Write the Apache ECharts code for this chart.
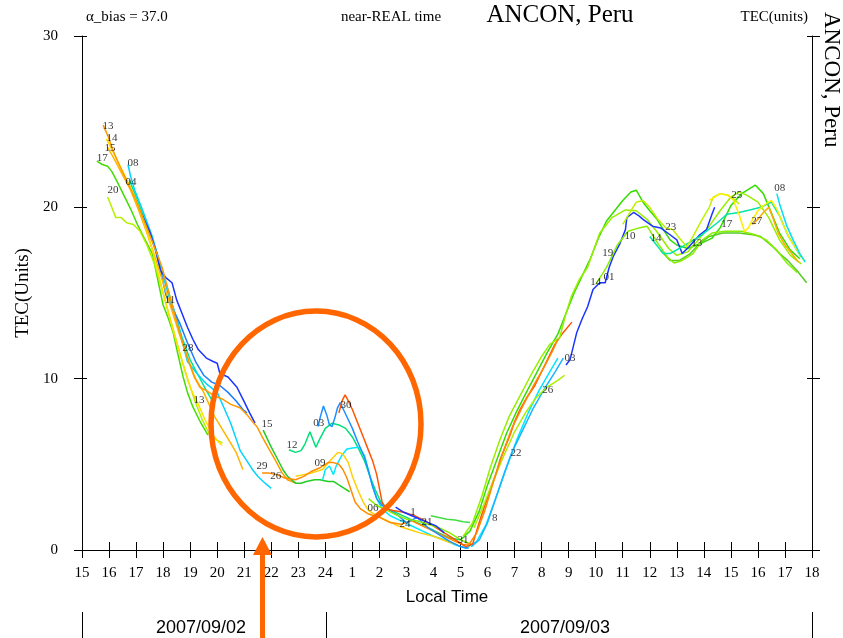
<!DOCTYPE html>
<html>
<head>
<meta charset="utf-8">
<title>ANCON, Peru TEC</title>
<script src="https://cdn.jsdelivr.net/npm/echarts@6/dist/echarts.min.js"></script>
<style>
  html, body { margin: 0; padding: 0; background: #fff; }
  #chart { width: 843px; height: 638px; }
</style>
</head>
<body>
<div id="chart"></div>
<script>
// hours counted from 15 LT on 2007/09/02 (24 = midnight, 42 = 18 LT next day)
const hourMin = 15
const hourMax = 42
const tecTicks = [0, 10, 20, 30]

// satellite arcs: [hour, TEC]
const eve13 = [[15.78,24.8],[15.95,24.2],[16.15,23.3],[16.4,22.4],[16.7,21.4],[17.0,20.4],[17.3,19.2],[17.6,18.0],[17.96,16.5],[18.2,15.1],[18.45,13.6],[18.7,12.2],[18.95,11.0],[19.15,10.1],[19.36,9.5],[19.6,9.3],[19.9,9.0],[20.2,8.8],[20.5,8.5],[20.84,8.3],[21.1,7.9],[21.3,7.5],[21.47,7.2],[21.7,6.5],[21.95,5.8],[22.2,5.1],[22.4,4.5],[22.6,4.1],[22.9,3.9]]
const eve14 = [[15.9,24.0],[16.1,23.4],[16.35,22.6],[16.6,21.8],[16.9,20.8],[17.2,19.6],[17.5,18.1],[17.75,16.6],[18.0,15.0],[18.25,13.5],[18.5,12.1],[18.8,10.5],[19.05,9.3],[19.3,8.5],[19.55,7.6],[19.8,6.8],[20.05,6.3],[20.18,6.1]]
const eve15 = [[15.95,23.5],[16.2,22.8],[16.5,21.9],[16.8,21.0],[17.1,19.8],[17.4,18.5],[17.7,17.1],[18.0,15.6],[18.3,14.1],[18.6,12.6],[18.9,11.2],[19.2,10.0],[19.5,9.2],[19.9,7.8],[20.36,6.6],[20.7,5.7],[20.95,4.7]]
const eve17 = [[15.55,22.7],[15.75,22.5],[15.95,22.4],[16.1,22.1],[16.3,21.5],[16.55,20.7],[16.8,19.9],[17.05,19.0],[17.3,18.2],[17.6,17.3],[17.8,15.8],[18.0,14.3],[18.2,13.5],[18.37,12.7],[18.55,11.4],[18.74,10.1],[18.9,9.2],[19.1,8.35],[19.4,7.4],[19.66,6.7]]
const eve20 = [[15.95,20.6],[16.1,20.0],[16.25,19.4],[16.45,19.4],[16.65,19.1],[16.9,19.0],[17.15,18.6],[17.4,17.8],[17.7,16.6],[18.0,15.0],[18.3,13.3],[18.6,11.6],[18.9,10.0],[19.2,8.6],[19.45,7.6],[19.7,6.8],[20.0,6.4],[20.2,6.25]]
const eve08 = [[16.7,22.5],[16.8,21.8],[16.95,21.0],[17.2,20.0],[17.6,18.3],[18.0,16.0],[18.25,14.6],[18.5,13.6],[18.7,12.2],[18.9,11.0],[19.25,10.3],[19.6,9.7],[20.0,9.2],[20.25,8.3],[20.5,7.4],[20.7,6.5],[20.85,5.8],[21.1,5.2],[21.3,4.7],[21.5,4.3],[21.7,4.0],[22.0,3.6]]
const eve04 = [[16.75,21.6],[16.95,20.8],[17.2,19.8],[17.5,18.6],[17.8,17.2],[18.1,15.6],[18.4,14.0],[18.7,12.4],[19.0,11.1],[19.3,10.2],[19.6,9.3],[19.9,8.5]]
const eveBlue = [[17.2,19.6],[17.5,18.6],[17.75,17.4],[17.9,16.3],[18.1,15.9],[18.33,15.6],[18.5,14.6],[18.7,13.8],[18.9,13.0],[19.1,12.3],[19.3,11.7],[19.6,11.2],[19.85,11.0],[20.0,10.9],[20.1,10.3],[20.4,10.1],[20.73,9.5],[20.97,8.75],[21.2,8.0],[21.4,7.4]]
const eveAzure = [[17.1,20.0],[17.4,18.9],[17.7,17.6],[17.95,16.0],[18.1,14.9],[18.3,14.2],[18.6,13.3],[18.9,12.1],[19.2,11.0],[19.5,10.2],[19.8,9.8],[20.1,9.6],[20.4,9.2],[20.7,8.7],[20.95,8.2],[21.1,8.0]]

const mid29 = [[21.66,4.5],[21.9,4.5],[22.2,4.4],[22.5,4.2],[22.9,4.1],[23.2,4.3],[23.5,4.6],[23.8,4.8],[24.1,5.1],[24.3,5.1],[24.5,5.0],[24.65,4.7],[24.8,4.2],[24.95,3.5],[25.1,2.8],[25.3,2.4],[25.6,2.1],[26.0,1.9],[26.4,1.6],[26.8,1.5],[27.2,1.7],[27.6,1.4],[28.0,1.1],[28.4,0.8],[28.8,0.5],[29.1,0.3],[29.4,0.4]]
const mid15 = [[21.7,7.0],[21.85,6.5],[22.0,6.0],[22.2,5.4],[22.43,4.7],[22.6,4.3],[22.9,3.9],[23.1,3.9],[23.3,4.0],[23.6,4.1],[23.8,4.1],[24.1,4.0],[24.3,4.0],[24.5,3.8],[24.7,3.6],[24.9,3.4]]
const mid12 = [[22.65,5.85],[22.9,5.7],[23.1,5.8],[23.25,6.2],[23.43,6.9],[23.55,6.4],[23.65,6.0],[23.8,6.5],[24.0,7.1],[24.25,7.4],[24.5,7.3],[24.75,7.1],[25.0,6.6],[25.2,6.0],[25.45,5.2],[25.65,4.3],[25.85,3.5],[26.05,2.8],[26.3,2.4],[26.6,2.2],[27.0,1.9],[27.4,1.6],[27.8,1.3],[28.2,1.0],[28.6,0.7],[29.0,0.6]]
const mid03 = [[23.73,7.2],[23.82,7.8],[23.93,8.4],[24.05,7.9],[24.15,7.3],[24.25,7.2],[24.35,7.7],[24.45,8.3],[24.55,8.6],[24.7,8.1],[24.85,7.6],[25.0,7.1],[25.2,6.3],[25.45,5.4],[25.6,4.6],[25.75,3.7],[25.9,3.0],[26.1,2.6],[26.4,2.3],[26.7,2.0],[27.0,1.6],[27.4,1.9],[27.8,1.3],[28.2,0.9],[28.6,0.5],[29.0,0.2],[29.3,0.1]]
const mid30 = [[24.5,8.0],[24.62,8.7],[24.73,9.05],[24.85,8.7],[25.0,8.2],[25.15,7.6],[25.3,7.0],[25.45,6.4],[25.6,5.8],[25.75,5.2],[25.9,4.4],[26.0,3.6],[26.1,2.8],[26.25,2.4],[26.5,2.3],[26.9,2.2],[27.3,2.0],[27.7,1.7],[28.0,1.4],[28.4,1.0],[28.7,0.7],[29.0,0.4],[29.2,0.2],[29.45,0.35],[29.72,1.75],[29.9,2.6],[30.09,3.5],[30.3,4.4],[30.46,5.25],[30.65,6.0],[30.83,6.7],[31.0,7.5],[31.2,8.2],[31.45,8.9],[31.75,9.6],[32.12,10.8],[32.49,12.0],[32.8,12.7],[33.12,13.3]]
const mid09 = [[22.9,4.3],[23.2,4.4],[23.5,4.5],[23.9,4.7],[24.2,5.25],[24.47,5.7],[24.65,5.6],[24.85,5.1],[25.0,4.3],[25.2,3.5],[25.4,2.8],[25.6,2.3],[25.9,2.0],[26.3,1.7],[26.7,1.4],[27.1,1.2],[27.5,1.0],[28.0,0.8],[28.5,0.5],[28.9,0.3]]
const midCyan = [[23.9,4.1],[24.0,4.7],[24.15,4.9],[24.3,4.4],[24.4,4.9],[24.6,5.5],[24.8,5.9],[25.0,5.95],[25.25,6.0],[25.45,5.5],[25.6,4.6],[25.75,3.7],[25.9,3.0],[26.1,2.4],[26.4,2.0],[26.8,1.7],[27.2,1.4],[27.6,1.1],[28.0,0.8],[28.4,0.6],[28.8,0.3],[29.2,0.1],[29.6,0.5],[29.95,1.5],[30.3,3.0],[30.7,4.8],[31.1,6.5],[31.5,8.0],[31.9,9.3],[32.3,10.4],[32.6,11.2]]
const dawn31 = [[27.9,2.0],[28.2,1.9],[28.5,1.8],[28.8,1.75],[29.1,1.65],[29.35,1.6]]
const dawn24 = [[25.6,3.0],[25.9,2.6],[26.3,2.3],[26.7,2.0],[27.0,1.8],[27.4,1.7],[27.8,1.5],[28.2,1.3],[28.6,1.0],[29.0,0.6],[29.3,0.4]]
const dawn21 = [[26.6,2.5],[26.9,2.2],[27.2,2.0],[27.5,1.8],[27.8,1.6],[28.1,1.4],[28.4,1.0]]

const rise8 = [[29.4,0.2],[29.7,0.6],[30.0,1.6],[30.3,3.0],[30.6,4.4],[30.9,5.7],[31.3,7.0],[31.7,8.3],[32.1,9.4],[32.5,10.4],[32.8,11.2]]
const riseOrange = [[29.3,0.3],[29.6,1.0],[29.9,2.3],[30.2,3.9],[30.55,5.6],[30.9,7.1],[31.3,8.4],[31.7,9.6],[32.1,10.7],[32.4,11.6],[32.6,12.3]]
const riseYG = [[29.5,1.3],[29.8,2.4],[30.2,4.0],[30.6,5.5],[31.0,6.9],[31.4,8.0],[31.8,8.9],[32.2,9.5],[32.6,9.9],[32.85,10.2]]
const rise22 = [[29.0,0.6],[29.35,1.1],[29.7,2.3],[30.0,3.8],[30.35,5.3],[30.7,6.8],[31.05,8.0],[31.4,9.1],[31.8,10.3],[32.2,11.5],[32.6,12.6],[32.9,13.8],[33.2,15.0],[33.5,16.0],[33.8,17.0],[34.1,18.2],[34.4,19.2],[34.7,19.8],[35.0,20.4],[35.3,20.9],[35.5,21.0],[35.75,20.3],[36.0,19.8],[36.27,19.3],[36.5,18.7],[36.75,18.1],[37.0,17.8],[37.4,17.6],[37.9,17.9],[38.3,18.2],[38.6,18.8],[39.0,20.1],[39.4,20.8],[39.9,21.3],[40.2,20.8],[40.45,19.85],[40.8,18.5],[41.2,17.5],[41.55,17.0]]
const rise26 = [[29.1,0.8],[29.45,1.6],[29.8,3.2],[30.1,4.8],[30.45,6.4],[30.8,7.8],[31.2,9.0],[31.6,10.2],[32.0,11.3],[32.3,12.0],[32.67,12.4],[32.9,13.8],[33.1,14.8],[33.4,15.8],[33.7,16.5],[33.9,17.4],[34.15,18.5],[34.4,19.0],[34.6,19.4],[35.1,19.85],[35.5,19.8],[35.9,19.3],[36.3,18.5],[36.7,17.6],[37.0,17.2],[37.4,17.4],[37.8,18.1],[38.2,18.9],[38.6,19.8],[39.0,20.6],[39.3,20.9],[39.6,20.7],[40.0,20.3],[40.4,19.4],[40.8,18.1],[41.2,17.2],[41.6,16.7]]
const rise03 = [[32.9,10.8],[33.05,11.1],[33.3,12.7],[33.5,13.5],[33.7,14.2],[33.9,15.2],[34.15,15.6],[34.35,15.6],[34.5,16.5],[34.64,17.1],[34.9,17.9],[35.1,18.7],[35.15,19.4],[35.4,19.7],[35.6,19.5],[35.75,19.3],[36.1,18.9],[36.4,18.8],[36.75,18.4],[37.0,18.1],[37.2,17.3],[37.45,17.7],[37.85,18.4],[38.1,18.7],[38.3,19.6],[38.4,20.0]]

const day23 = [[35.0,19.0],[35.3,19.8],[35.5,20.3],[35.75,20.4],[36.0,20.0],[36.3,19.3],[36.6,18.8],[36.85,18.7],[37.1,18.2],[37.37,17.7],[37.6,18.3],[37.9,19.2],[38.2,20.0],[38.35,20.6],[38.6,20.8],[38.9,20.7],[39.1,20.5],[39.3,20.2]]
const day25 = [[38.2,20.4],[38.6,20.8],[38.9,20.7],[39.1,20.4],[39.3,19.6],[39.5,18.6],[39.65,18.8],[39.8,19.3],[40.0,19.8],[40.2,20.1],[40.5,20.4],[40.7,19.9],[40.9,19.1],[41.2,18.1],[41.45,17.5],[41.7,16.9]]
const day27 = [[39.8,19.0],[40.0,19.3],[40.2,19.7],[40.4,20.0],[40.55,19.4],[40.75,18.5],[41.0,17.8],[41.3,17.2],[41.5,16.8]]
const day08 = [[40.7,20.8],[40.8,20.2],[41.07,18.9],[41.3,18.1],[41.55,17.3],[41.75,16.8]]
const day17 = [[36.0,18.3],[36.5,17.3],[36.75,17.3],[37.2,17.7],[37.85,18.3],[38.5,19.1],[38.85,19.6],[39.3,19.7],[39.7,19.85],[40.1,20.0],[40.5,20.3],[40.8,19.5],[41.1,18.4],[41.4,17.6],[41.6,17.1]]
const day13 = [[36.4,17.5],[36.75,16.9],[37.1,16.9],[37.5,17.3],[37.85,17.9],[38.2,18.3],[38.7,18.5],[39.3,18.5],[39.8,18.4],[40.1,18.3],[40.55,17.7],[40.8,17.3],[41.1,16.9],[41.45,16.3],[41.8,15.6]]
const day14 = [[34.0,15.5],[34.4,16.5],[34.8,17.8],[35.2,18.6],[35.6,18.8],[35.9,18.9],[36.3,17.9],[36.65,17.1],[36.9,16.75],[37.2,16.9],[37.6,17.3],[37.95,18.1],[38.3,18.5],[38.8,18.6],[39.4,18.6],[39.9,18.4],[40.3,18.1],[40.7,17.5],[41.07,16.75],[41.45,16.2]]

const arcs = [
  [eve04, '#00e68c'], [eve17, '#44dd00'], [eve20, '#b4f000'], [eve08, '#00d4ff'],
  [eveAzure, '#1e7cff'], [eveBlue, '#1a35ff'], [eve15, '#ffb400'], [eve14, '#ffe000'],
  [eve13, '#ff9900'], [mid15, '#22cc22'], [mid12, '#00e07a'], [midCyan, '#00e8ff'],
  [mid09, '#ffd000'], [mid29, '#ff8c00'], [mid03, '#1e90ff'], [mid30, '#ff5500'],
  [dawn31, '#44dd44'], [dawn24, '#88ee00'], [dawn21, '#1a35ff'],
  [rise8, '#18b4ff'], [riseYG, '#aaee00'], [rise22, '#33dd00'], [rise26, '#99ee00'],
  [riseOrange, '#ff8800'], [rise03, '#1a35ff'],
  [day13, '#55cc22'], [day14, '#88ee00'], [day17, '#00e6aa'], [day23, '#c0f000'],
  [day25, '#ffee00'], [day27, '#ffaa00'], [day08, '#00e0f0']
]

// PRN labels written on the arcs: [hour, TEC, prn]
const prnLabels = [
  [15.96,24.75,'13'],[16.11,24.05,'14'],[16.04,23.45,'15'],[15.75,22.9,'17'],[16.89,22.6,'08'],
  [16.81,21.5,'04'],[16.15,21.0,'20'],[18.25,14.6,'11'],[18.92,11.8,'28'],[19.33,8.75,'13'],
  [21.84,7.35,'15'],[22.77,6.1,'12'],[23.76,7.4,'03'],[24.76,8.45,'30'],[23.8,5.1,'09'],
  [21.66,4.9,'29'],[22.17,4.3,'26'],[25.76,2.45,'06'],[26.95,1.5,'24'],[27.24,2.2,'1'],
  [27.76,1.6,'21'],[29.09,0.6,'31'],[30.27,1.85,'8'],[31.05,5.65,'22'],[32.23,9.35,'26'],
  [33.05,11.2,'03'],[34.0,15.65,'14'],[34.49,15.9,'01'],[34.45,17.3,'19'],[35.27,18.3,'10'],
  [36.78,18.85,'23'],[36.23,18.2,'14'],[37.74,17.9,'13'],[38.85,19.0,'17'],[39.22,20.7,'25'],
  [39.96,19.2,'27'],[40.81,21.1,'08']
]

const serif = '"Liberation Serif", "DejaVu Serif", serif'
const sans = '"Liberation Sans", "DejaVu Sans", sans-serif'
const orange = '#ff6600'

const hourLabel = (v) => String(v <= 24 ? v : v - 24)

const chart = echarts.init(document.getElementById('chart'))

const series = arcs.map(([data, color]) => ({
  type: 'line',
  data: data,
  showSymbol: false,
  smooth: false,
  lineStyle: { color: color, width: 1.5 },
  emphasis: { disabled: true },
  z: 2
}))

series.push({
  type: 'scatter',
  data: prnLabels,
  symbolSize: 0,
  label: {
    show: true,
    position: 'inside',
    formatter: (p) => p.value[2],
    color: '#000',
    fontFamily: serif,
    fontSize: 11
  },
  z: 5
})

const axisLine = { show: true, lineStyle: { color: '#000', width: 1 } }

const option = {
  backgroundColor: '#fff',
  animation: false,
  grid: { left: 82, right: 31, top: 36, bottom: 88 },
  xAxis: [
    {
      type: 'value', min: hourMin, max: hourMax, interval: 1,
      axisLine: axisLine,
      axisTick: { show: true, inside: false, length: 8, lineStyle: { color: '#000' } },
      axisLabel: { formatter: hourLabel, color: '#000', fontFamily: serif, fontSize: 15, margin: 16 },
      splitLine: { show: false },
      name: 'Local Time', nameLocation: 'middle', nameGap: 39,
      nameTextStyle: { color: '#000', fontFamily: sans, fontSize: 17 }
    },
    {
      type: 'value', position: 'top', min: hourMin, max: hourMax, interval: 1,
      axisLine: axisLine,
      axisTick: { show: true, inside: false, length: 8, lineStyle: { color: '#000' } },
      axisLabel: { show: false },
      splitLine: { show: false }
    }
  ],
  yAxis: [
    {
      type: 'value', min: tecTicks[0], max: tecTicks[tecTicks.length - 1], interval: 10,
      axisLine: axisLine,
      axisTick: { show: true, inside: false, length: 8, lineStyle: { color: '#000' } },
      axisLabel: { color: '#000', fontFamily: serif, fontSize: 15, margin: 24 },
      splitLine: { show: false },
      name: 'TEC(Units)', nameLocation: 'middle', nameGap: 42, nameRotate: 90,
      nameTextStyle: { color: '#000', fontFamily: serif, fontSize: 19 }
    },
    {
      type: 'value', position: 'left', min: 0, max: 30, interval: 10,
      axisLine: { show: false },
      axisTick: { show: true, inside: true, length: 5, lineStyle: { color: '#000' } },
      axisLabel: { show: false },
      splitLine: { show: false }
    },
    {
      type: 'value', position: 'right', min: 0, max: 30, interval: 10,
      axisLine: axisLine,
      axisTick: { show: true, inside: false, length: 8, lineStyle: { color: '#000' } },
      axisLabel: { show: false },
      splitLine: { show: false }
    },
    {
      type: 'value', position: 'right', min: 0, max: 30, interval: 10,
      axisLine: { show: false },
      axisTick: { show: true, inside: true, length: 5, lineStyle: { color: '#000' } },
      axisLabel: { show: false },
      splitLine: { show: false }
    }
  ],
  series: series,
  graphic: [
    { type: 'text', x: 86, y: 17, style: { text: 'α_bias = 37.0', font: '15px ' + serif, fill: '#000', textVerticalAlign: 'middle' } },
    { type: 'text', x: 391, y: 17, style: { text: 'near-REAL time', font: '15px ' + serif, fill: '#000', textAlign: 'center', textVerticalAlign: 'middle' } },
    { type: 'text', x: 560, y: 15, style: { text: 'ANCON, Peru', font: '25px ' + serif, fill: '#000', textAlign: 'center', textVerticalAlign: 'middle' } },
    { type: 'text', x: 808, y: 17, style: { text: 'TEC(units)', font: '15px ' + serif, fill: '#000', textAlign: 'right', textVerticalAlign: 'middle' } },
    { type: 'text', x: 831, y: 12, rotation: -Math.PI / 2, style: { text: 'ANCON, Peru', font: '23px ' + serif, fill: '#000', textAlign: 'left', textVerticalAlign: 'middle' } },
    { type: 'line', shape: { x1: 82.5, y1: 612, x2: 82.5, y2: 638 }, style: { stroke: '#000', lineWidth: 1 } },
    { type: 'line', shape: { x1: 326.5, y1: 612, x2: 326.5, y2: 638 }, style: { stroke: '#000', lineWidth: 1 } },
    { type: 'line', shape: { x1: 812.5, y1: 612, x2: 812.5, y2: 638 }, style: { stroke: '#000', lineWidth: 1 } },
    { type: 'text', x: 201, y: 628, style: { text: '2007/09/02', font: '18px ' + sans, fill: '#000', textAlign: 'center', textVerticalAlign: 'middle' } },
    { type: 'text', x: 565, y: 628, style: { text: '2007/09/03', font: '18px ' + sans, fill: '#000', textAlign: 'center', textVerticalAlign: 'middle' } },
    { type: 'ellipse', shape: { cx: 316, cy: 424, rx: 105, ry: 113 }, style: { fill: 'none', stroke: orange, lineWidth: 5.5 }, z: 100 },
    { type: 'rect', shape: { x: 260, y: 552, width: 5, height: 90 }, style: { fill: orange }, z: 100 },
    { type: 'polygon', shape: { points: [[253, 555], [272, 555], [262.5, 537]] }, style: { fill: orange }, z: 100 }
  ]
}

chart.setOption(option)
</script>
</body>
</html>
